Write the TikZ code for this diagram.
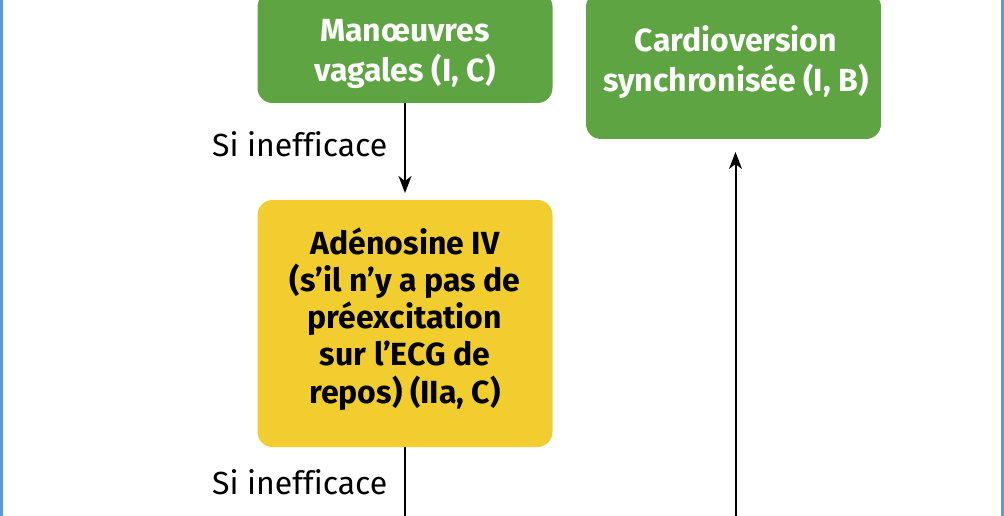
\documentclass[tikz,border=0pt]{standalone}
\usepackage{fontspec}
\setmainfont[Ligatures=NoCommon]{Fira Sans}
\usetikzlibrary{arrows.meta}
\definecolor{boxgreen}{RGB}{94,164,67}
\definecolor{boxyellow}{RGB}{242,205,48}
\definecolor{frameblue}{RGB}{91,155,213}
\begin{document}
\begin{tikzpicture}[x=1pt,y=-1pt,
  boxshape/.style={rounded corners=15pt, minimum width=295pt, inner sep=0pt, outer sep=0pt},
  greenbox/.style={boxshape, fill=boxgreen},
  yellowbox/.style={boxshape, fill=boxyellow},
  boxtext/.style={align=center, inner sep=0pt, anchor=base},
  greentext/.style={boxtext, text=white, font=\bfseries\fontsize{32}{40}\selectfont},
  yellowtext/.style={boxtext, text=black, font=\bfseries\fontsize{32}{37.2}\selectfont},
  labeltext/.style={anchor=base west, inner sep=0pt, font=\fontsize{32}{36}\selectfont},
  flow/.style={line width=2pt, -{Stealth[length=17pt,width=13pt,inset=5pt]}},
  plainline/.style={line width=2pt}
]
\useasboundingbox (0,0) rectangle (1004,516);
\fill[frameblue] (0,0) rectangle (3,516);
\fill[frameblue] (1001,0) rectangle (1004,516);

\node[greenbox, minimum height=111pt] (vag) at (405,47.5) {};
\node[greentext] (vagt) at (405,82) {Manœuvres\\vagales (I, C)};

\node[greenbox, minimum height=147pt] (cv) at (733.5,65.5) {};
\node[greentext] (cvt) at (736,92) {Cardioversion\\synchronisée (I, B)};

\node[yellowbox, minimum height=247pt] (ade) at (405,323.5) {};
\node[yellowtext] (adet) at (405,403) {Adénosine IV\\(s’il n’y a pas de\\préexcitation\\sur l’ECG de\\repos) (IIa, C)};

\node[labeltext] (si1) at (212,157) {Si inefficace};
\node[labeltext] (si2) at (212,494) {Si inefficace};

\coordinate (bot1) at (405,516);
\coordinate (bot2) at (735.5,516);
\draw[flow, shorten >=7pt] (vag.south) -- (ade.north);
\draw[plainline] (ade.south) -- (bot1);
\draw[flow, shorten >=13pt] (bot2) -- (bot2 |- cv.south);
\end{tikzpicture}
\end{document}
